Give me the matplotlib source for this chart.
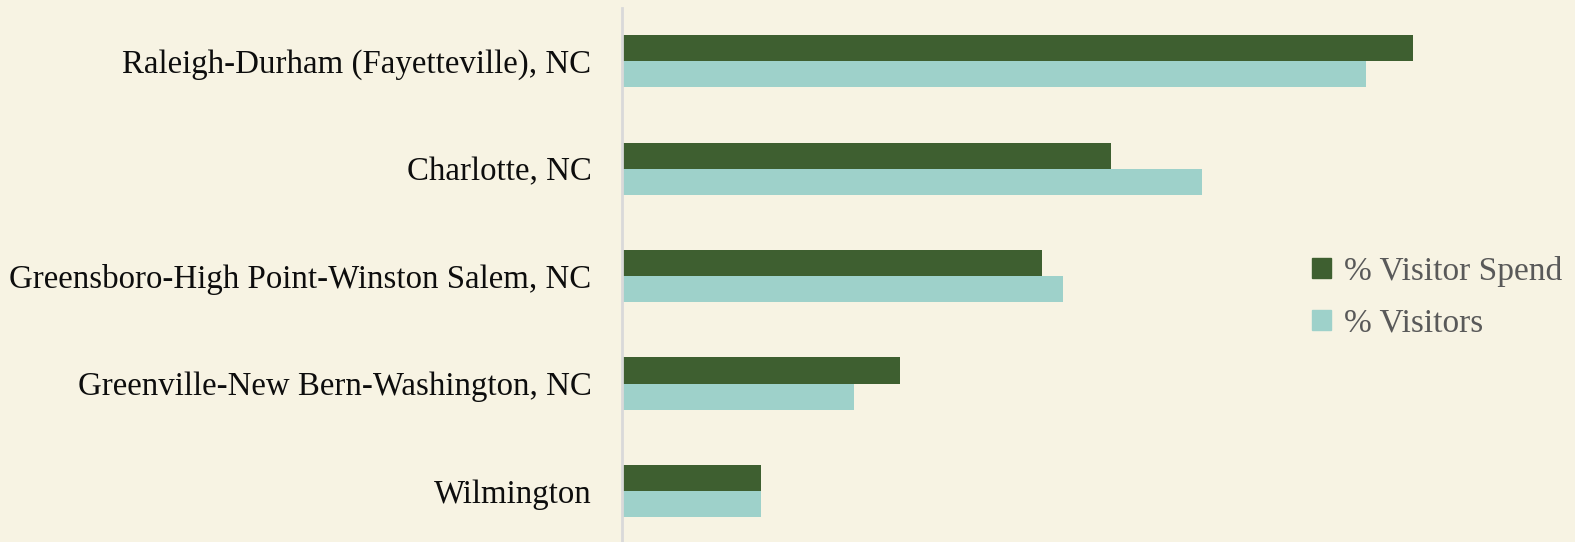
import matplotlib.pyplot as plt
from matplotlib.patches import Patch

# data (percent shares)
markets = ['Raleigh-Durham (Fayetteville), NC', 'Charlotte, NC',
           'Greensboro-High Point-Winston Salem, NC',
           'Greenville-New Bern-Washington, NC', 'Wilmington']
visitor_spend = [34.1, 21.1, 18.1, 12.0, 6.0]
visitors = [32.1, 25.0, 19.0, 10.0, 6.0]

bg = '#F7F3E3'
c_spend = '#3E5F30'
c_visit = '#9ED1CA'

plt.rcParams['font.family'] = ['Liberation Serif', 'DejaVu Serif']

fig = plt.figure(figsize=(15.75, 5.42), dpi=100, facecolor=bg)
ax = fig.add_axes([622 / 1575, -0.005, 1 - 622 / 1575, 0.991])
ax.set_facecolor(bg)

h = 0.243
y = list(range(len(markets)))
ax.barh([i - h / 2 for i in y], visitor_spend, height=h, color=c_spend)
ax.barh([i + h / 2 for i in y], visitors, height=h, color=c_visit)

ax.set_ylim(len(markets) - 0.5, -0.5)
ax.set_xlim(0, 41.1)
ax.set_yticks(y)
ax.set_yticklabels(markets, fontsize=23.7, color='#0D0D0D')
ax.tick_params(axis='y', length=0, pad=22)
ax.set_xticks([])
for s in ['top', 'right', 'bottom']:
    ax.spines[s].set_visible(False)
ax.spines['left'].set_color('#D9D9D9')
ax.spines['left'].set_linewidth(2)

handles = [Patch(color=c_spend, label='% Visitor Spend'),
           Patch(color=c_visit, label='% Visitors')]
leg = ax.legend(handles=handles, loc='center left', bbox_to_anchor=(0.693, 0.461),
                frameon=False, fontsize=24, labelcolor='#595959',
                handlelength=0.55, handleheight=0.55, handletextpad=0.4,
                labelspacing=0.64)

fig.savefig('out.png', facecolor=bg)
